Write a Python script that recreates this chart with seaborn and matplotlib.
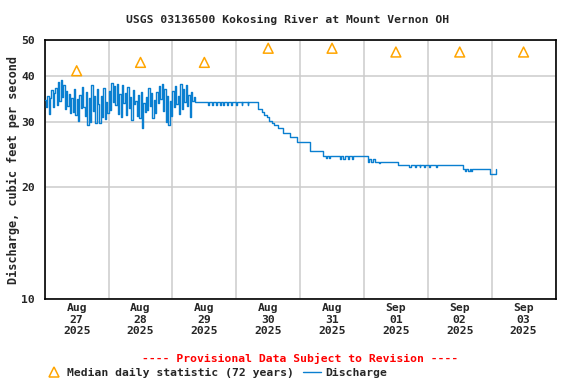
import numpy as np
import pandas as pd
import matplotlib
matplotlib.use("Agg")
import matplotlib.pyplot as plt
import matplotlib.dates as mdates
from matplotlib.lines import Line2D
from matplotlib.ticker import FixedLocator, FixedFormatter, NullLocator
import seaborn as sns

# noisy 30-minute readings, Aug 27 00:00 -> Aug 29 09:00
noisy_start = "2025-08-27 00:00"
noisy_cfs = [
    34.5, 33.0, 35.2, 31.5, 34.8, 36.6, 32.9, 35.9, 37.1, 33.4,
    38.6, 34.2, 39.0, 35.0, 37.8, 32.6, 36.4, 33.1, 35.7, 31.8,
    34.9, 32.0, 36.8, 31.4, 34.6, 30.2, 35.5, 32.7, 37.4, 33.0,
    31.2, 36.1, 29.4, 34.8, 30.0, 37.7, 32.1, 35.3, 29.8, 36.9,
    33.6, 29.9, 35.4, 31.0, 37.2, 30.6, 34.0, 31.8, 36.5, 32.4,
    38.2, 34.1, 37.6, 33.3, 38.0, 31.6, 35.8, 30.9, 37.9, 33.9,
    36.0, 31.3, 37.3, 32.8, 35.1, 30.4, 36.7, 33.5, 34.2, 31.1,
    35.6, 30.8, 36.3, 29.0, 33.7, 31.9, 35.0, 32.3, 37.0, 33.2,
    35.9, 30.7, 34.4, 31.7, 36.2, 33.8, 37.5, 34.6, 38.1, 32.2,
    36.8, 30.1, 35.2, 29.5, 34.3, 31.2, 36.4, 32.9, 37.6, 33.6,
    35.4, 31.5, 38.0, 32.6, 36.9, 34.0, 37.7, 33.1, 35.6, 30.9,
    36.2, 34.3, 35.0, 34.0, 34.0,
]

# later readings only where the value changes
step_times = [
    "2025-08-29 09:30", "2025-08-29 13:30", "2025-08-29 13:45", "2025-08-29 15:00",
    "2025-08-29 15:15", "2025-08-29 16:30", "2025-08-29 16:45", "2025-08-29 17:45",
    "2025-08-29 18:15", "2025-08-29 19:00", "2025-08-29 19:15", "2025-08-29 20:30",
    "2025-08-29 20:45", "2025-08-29 22:00", "2025-08-29 22:30", "2025-08-30 00:00",
    "2025-08-30 00:15", "2025-08-30 02:00", "2025-08-30 02:15", "2025-08-30 04:15",
    "2025-08-30 04:30", "2025-08-30 08:00", "2025-08-30 09:30", "2025-08-30 10:30",
    "2025-08-30 11:30", "2025-08-30 12:15", "2025-08-30 13:15", "2025-08-30 14:15",
    "2025-08-30 15:45", "2025-08-30 17:30", "2025-08-30 20:15", "2025-08-30 22:45",
    "2025-08-31 03:45", "2025-08-31 08:30", "2025-08-31 09:45", "2025-08-31 10:15",
    "2025-08-31 10:45", "2025-08-31 11:15", "2025-08-31 15:00", "2025-08-31 15:30",
    "2025-08-31 16:15", "2025-08-31 16:45", "2025-08-31 18:00", "2025-08-31 18:30",
    "2025-08-31 19:30", "2025-08-31 20:00", "2025-09-01 01:30", "2025-09-01 02:00",
    "2025-09-01 02:30", "2025-09-01 03:30", "2025-09-01 04:00", "2025-09-01 05:30",
    "2025-09-01 06:00", "2025-09-01 12:45", "2025-09-01 17:00", "2025-09-01 17:30",
    "2025-09-01 19:00", "2025-09-01 19:30", "2025-09-01 21:00", "2025-09-01 21:15",
    "2025-09-01 22:30", "2025-09-01 23:00", "2025-09-02 00:30", "2025-09-02 01:00",
    "2025-09-02 03:00", "2025-09-02 03:30", "2025-09-02 13:15", "2025-09-02 14:00",
    "2025-09-02 14:30", "2025-09-02 15:15", "2025-09-02 15:45", "2025-09-02 16:15",
    "2025-09-02 16:45", "2025-09-02 23:30", "2025-09-03 01:30", "2025-09-03 01:45",
]
step_cfs = [
    34.0, 33.4, 34.0, 33.4,
    34.0, 33.4, 34.0, 33.4,
    34.0, 33.4, 34.0, 33.4,
    34.0, 33.4, 34.0, 33.4,
    34.0, 33.4, 34.0, 33.4,
    34.0, 32.5, 32.0, 31.4,
    30.9, 30.3, 29.8, 29.4,
    28.9, 28.1, 27.4, 26.6,
    25.1, 24.3, 24.0, 24.3,
    24.0, 24.3, 23.8, 24.3,
    23.8, 24.3, 23.8, 24.3,
    23.8, 24.3, 23.5, 23.8,
    23.5, 23.8, 23.5, 23.3,
    23.5, 23.0, 22.7, 23.0,
    22.7, 23.0, 22.7, 23.0,
    22.7, 23.0, 22.7, 23.0,
    22.7, 23.0, 22.4, 22.1,
    22.4, 22.1, 22.4, 22.1,
    22.4, 21.8, 22.4, 22.4,
]

median_days = ["2025-08-27 12:00", "2025-08-28 12:00", "2025-08-29 12:00", "2025-08-30 12:00",
               "2025-08-31 12:00", "2025-09-01 12:00", "2025-09-02 12:00", "2025-09-03 12:00"]
median_cfs = [41.3, 43.5, 43.5, 47.5, 47.5, 46.4, 46.4, 46.4]

y_ticks = [10, 20, 30, 40, 50]

noisy_times = pd.date_range(noisy_start, periods=len(noisy_cfs), freq="30min")
flow = pd.DataFrame({
    "time": list(noisy_times) + list(pd.to_datetime(step_times)),
    "cfs": noisy_cfs + step_cfs,
})
medians = pd.DataFrame({"time": pd.to_datetime(median_days), "cfs": median_cfs})

sns.set_style("white")
plt.rcParams["font.family"] = ["DejaVu Sans Mono"]
plt.rcParams["font.weight"] = "bold"
fs = 8.2

blue = "#0a7fd0"
orange = "#ffa500"

fig = plt.figure(figsize=(5.76, 3.84), dpi=100)
ax = fig.add_axes([44.75 / 576, 1 - 299 / 384, (555.5 - 44.75) / 576, 259 / 384])

sns.lineplot(data=flow, x="time", y="cfs", ax=ax, color=blue, lw=1.0,
             drawstyle="steps-post", estimator=None, zorder=3)
ax.scatter(medians["time"], medians["cfs"], marker="^", s=50,
           facecolors="none", edgecolors=orange, linewidths=1.1, zorder=4)

ax.set_yscale("log")
ax.set_ylim(10, 50)
ax.yaxis.set_major_locator(FixedLocator(y_ticks))
ax.yaxis.set_major_formatter(FixedFormatter([str(v) for v in y_ticks]))
ax.yaxis.set_minor_locator(NullLocator())

ax.set_xlim(pd.Timestamp("2025-08-27"), pd.Timestamp("2025-09-04"))
ax.xaxis.set_major_locator(mdates.DayLocator())
ax.xaxis.set_major_formatter(plt.NullFormatter())
ax.xaxis.set_minor_locator(mdates.HourLocator(byhour=12))
ax.xaxis.set_minor_formatter(mdates.DateFormatter("%b\n%d\n%Y"))

ax.grid(True, which="major", color="#cccccc", lw=1.1)
ax.tick_params(which="both", length=0, labelsize=fs)
ax.tick_params(axis="x", which="both", pad=3)
ax.tick_params(axis="y", which="both", pad=7)
for lab in ax.get_yticklabels():
    lab.set_fontweight("bold")
for s in ax.spines.values():
    s.set_color("black")
    s.set_linewidth(1.2)

ax.set_xlabel("")
ax.set_ylabel("Discharge, cubic feet per second", fontsize=8.6, fontweight="bold", labelpad=1)

fig.text(0.5, 1 - 20 / 384, "USGS 03136500 Kokosing River at Mount Vernon OH",
         ha="center", va="center", fontsize=fs, fontweight="bold")
fig.text(300 / 576, 1 - 358 / 384, "---- Provisional Data Subject to Revision ----",
         ha="center", va="center", fontsize=fs, fontweight="bold", color="red")

handles = [
    Line2D([], [], marker="^", ls="none", mfc="none", mec=orange, ms=7, mew=1.1),
    Line2D([], [], color=blue, lw=1.0),
]
fig.legend(handles, ["Median daily statistic (72 years)", "Discharge"],
           loc="center left", bbox_to_anchor=(45 / 576, 1 - 373 / 384), ncol=2,
           frameon=False, fontsize=fs, borderpad=0, borderaxespad=0,
           handlelength=1.6, handletextpad=0.35, columnspacing=0.8)

fig.savefig("out.png", dpi=100)
